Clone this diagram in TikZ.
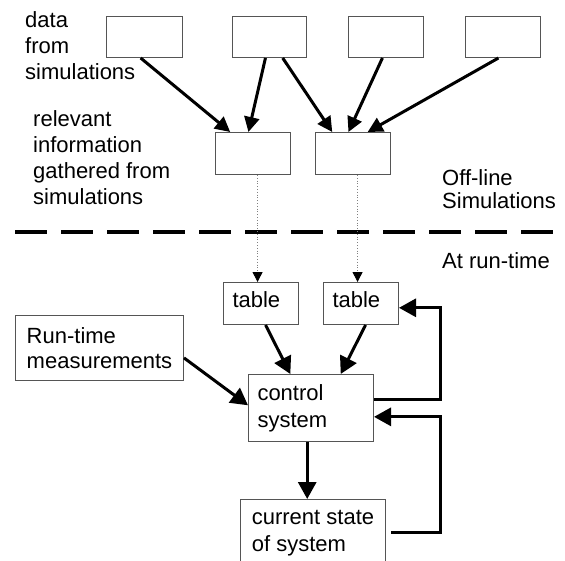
\documentclass[tikz,border=0pt]{standalone}
\usepackage{fontspec}
\setmainfont{Liberation Sans}
\usetikzlibrary{arrows.meta,calc}
\definecolor{boxgray}{RGB}{85,85,85}
\begin{document}
\begin{tikzpicture}[x=1pt,y=-1pt,
  box/.style={draw=boxgray, line width=1pt, inner sep=0pt, anchor=north west,
              font=\fontsize{22}{26}\selectfont},
  lbl/.style={inner sep=0pt, anchor=north west, align=left},
  arr/.style={line width=3pt, -{Triangle[length=17pt,width=18pt]}},
  thinarr/.style={line width=3pt, -{Triangle[length=15pt,width=15pt]}},
  dotarr/.style={draw=gray, line width=0.8pt, dotted, -{Triangle[length=10pt,width=10pt,color=black]}}]
\useasboundingbox (0,0) rectangle (565,560);

% top data boxes
\node[box, minimum width=76pt, minimum height=41pt] (t1) at (106,16) {};
\node[box, minimum width=74pt, minimum height=41pt] (t2) at (232,16) {};
\node[box, minimum width=75pt, minimum height=41pt] (t3) at (348,16) {};
\node[box, minimum width=75pt, minimum height=41pt] (t4) at (465,16) {};
% relevant info boxes
\node[box, minimum width=75pt, minimum height=42pt] (A) at (215,132) {};
\node[box, minimum width=75pt, minimum height=42pt] (B) at (315,132) {};
% tables
\node[box, minimum width=75pt, minimum height=42pt, text width=57pt, align=left,
      inner xsep=9pt, text height=16pt, text depth=8pt] (tab1) at (223,282) {table};
\node[box, minimum width=75pt, minimum height=42pt, text width=57pt, align=left,
      inner xsep=9pt, text height=16pt, text depth=8pt] (tab2) at (323,282) {table};
% run-time measurements
\node[box, minimum width=168pt, minimum height=65pt, align=left,
      font=\fontsize{22}{25}\selectfont] (rt) at (15,315) {Run-time\\measurements};
% control system
\node[box, minimum width=125pt, minimum height=67pt, text width=107pt, align=left,
      inner xsep=9pt, font=\fontsize{22}{27}\selectfont] (cs) at (248,374) {control\\system};
% current state
\node[box, minimum width=145pt, minimum height=68pt, align=left,
      font=\fontsize{22}{27}\selectfont] (cur) at (240,499) {current state\\of system};

% labels
\node[lbl, font=\fontsize{22}{26}\selectfont] (ldata) at (25,11) {data\\from\\simulations};
\node[lbl, font=\fontsize{22}{26}\selectfont] (lrel) at (33,110) {relevant\\information\\gathered from\\simulations};
\node[lbl, font=\fontsize{22}{23}\selectfont] (loff) at (442,169) {Off-line\\Simulations};
\node[lbl, font=\fontsize{22}{26}\selectfont] (lrun) at (442,252) {At run-time};

% separator
\draw[line width=4pt, dash pattern=on 32pt off 14pt] (15,232) -- (553,232);

% top arrows
\draw[thinarr] ($(t1.south west)!0.45!(t1.south east)$) -- ($(A.north west)!0.2!(A.north east)$);
\draw[thinarr] ($(t2.south west)!0.446!(t2.south east)$) -- ($(A.north west)!0.44!(A.north east)$);
\draw[thinarr] ($(t2.south west)!0.676!(t2.south east)$) -- ($(B.north west)!0.227!(B.north east)$);
\draw[thinarr] ($(t3.south west)!0.453!(t3.south east)$) -- ($(B.north west)!0.44!(B.north east)$);
\draw[thinarr] ($(t4.south west)!0.44!(t4.south east)$) -- ($(B.north west)!0.693!(B.north east)$);

% dotted links
\coordinate (d1) at ($(A.south west)!0.56!(A.south east)$);
\coordinate (d2) at ($(B.south west)!0.56!(B.south east)$);
\draw[dotarr] (d1) -- (d1 |- tab1.north);
\draw[dotarr] (d2) -- (d2 |- tab2.north);

% tables to control
\draw[arr] ($(tab1.south west)!0.56!(tab1.south east)$) -- ($(cs.north west)!0.336!(cs.north east)$);
\draw[arr] ($(tab2.south west)!0.56!(tab2.south east)$) -- ($(cs.north west)!0.736!(cs.north east)$);
% measurements to control
\draw[arr] ($(rt.north east)!0.65!(rt.south east)$) -- ($(cs.north west)!0.46!(cs.south west)$);
% control to current state
\coordinate (c1) at ($(cs.south west)!0.47!(cs.south east)$);
\draw[arr] (c1) -- (c1 |- cur.north);

% feedback loops
\coordinate (rail) at (440,300);
\coordinate (f1) at ($(cs.north east)!0.37!(cs.south east)$);
\coordinate (g1) at ($(tab2.north east)!0.6!(tab2.south east)$);
\draw[arr] (f1) -- (f1 -| rail) |- (g1);
\coordinate (f2) at ($(cur.north east)!0.485!(cur.south east)$);
\coordinate (g2) at ($(cs.north east)!0.63!(cs.south east)$);
\draw[arr, shorten <=5pt] (f2) -- (f2 -| rail) |- (g2);
\end{tikzpicture}
\end{document}
